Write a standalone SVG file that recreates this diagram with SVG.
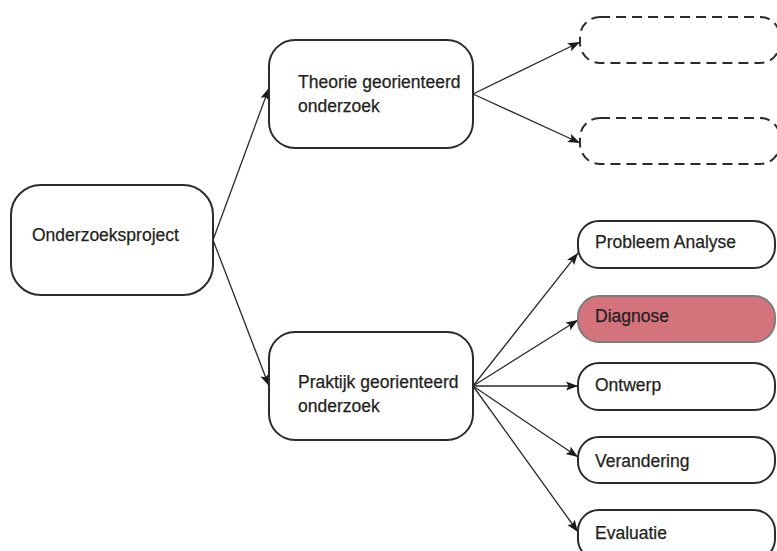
<svg xmlns="http://www.w3.org/2000/svg" width="777" height="551" viewBox="0 0 777 551">
  <style>
    .box { fill: #ffffff; stroke: #2b2b2b; stroke-width: 2; }
    .ghost { fill: none; stroke: #2b2b2b; stroke-width: 2; stroke-dasharray: 10 6; }
    .hot { fill: #d5737d; stroke: #7d7d7d; stroke-width: 2; }
    .label { font-family: "Liberation Sans", Arial, sans-serif; font-size: 17.5px; fill: #231f20; stroke: #231f20; stroke-width: 0.25; }
    .link { fill: none; stroke: #2b2b2b; stroke-width: 1.3; marker-end: url(#arrow); }
  </style>
  <defs>
    <marker id="arrow" markerUnits="userSpaceOnUse" markerWidth="13" markerHeight="10" refX="12" refY="5" orient="auto">
      <path d="M0,0.5 L12,5 L0,9.5 L2.5,5 Z" fill="#1a1a1a"/>
    </marker>
  </defs>

  <!-- connectors -->
  <g id="connectors">
    <line class="link" x1="213" y1="240" x2="269" y2="88"/>
    <line class="link" x1="213" y1="240" x2="269" y2="386"/>
    <line class="link" x1="473" y1="94" x2="580" y2="42"/>
    <line class="link" x1="473" y1="94" x2="580" y2="143"/>
    <line class="link" x1="473" y1="386" x2="578" y2="253"/>
    <line class="link" x1="473" y1="386" x2="578" y2="320"/>
    <line class="link" x1="473" y1="386" x2="578" y2="386"/>
    <line class="link" x1="473" y1="386" x2="578" y2="457"/>
    <line class="link" x1="473" y1="386" x2="578" y2="532"/>
  </g>

  <!-- root -->
  <g id="onderzoeksproject">
    <rect class="box" x="11" y="185" width="202" height="110" rx="30"/>
    <text class="label" x="32" y="241">Onderzoeksproject</text>
  </g>

  <!-- branches -->
  <g id="theorie">
    <rect class="box" x="269" y="40" width="204" height="108" rx="26"/>
    <text class="label" x="298" y="88">Theorie georienteerd</text>
    <text class="label" x="298" y="112">onderzoek</text>
  </g>
  <g id="praktijk">
    <rect class="box" x="269" y="332" width="204" height="108" rx="26"/>
    <text class="label" x="298" y="388">Praktijk georienteerd</text>
    <text class="label" x="298" y="412">onderzoek</text>
  </g>

  <!-- empty placeholders -->
  <g id="leeg-1">
    <rect class="ghost" x="580" y="17" width="200" height="46" rx="20"/>
  </g>
  <g id="leeg-2">
    <rect class="ghost" x="580" y="118" width="200" height="46" rx="20"/>
  </g>

  <!-- practice steps -->
  <g id="probleem-analyse">
    <rect class="box" x="578" y="221" width="197" height="47" rx="21"/>
    <text class="label" x="595" y="248">Probleem Analyse</text>
  </g>
  <g id="diagnose">
    <rect class="hot" x="578" y="296" width="197" height="46" rx="21"/>
    <text class="label" x="595" y="322">Diagnose</text>
  </g>
  <g id="ontwerp">
    <rect class="box" x="578" y="363" width="197" height="47" rx="21"/>
    <text class="label" x="595" y="391">Ontwerp</text>
  </g>
  <g id="verandering">
    <rect class="box" x="578" y="437" width="197" height="46" rx="21"/>
    <text class="label" x="595" y="467">Verandering</text>
  </g>
  <g id="evaluatie">
    <rect class="box" x="578" y="510" width="197" height="50" rx="21"/>
    <text class="label" x="595" y="539">Evaluatie</text>
  </g>
</svg>
